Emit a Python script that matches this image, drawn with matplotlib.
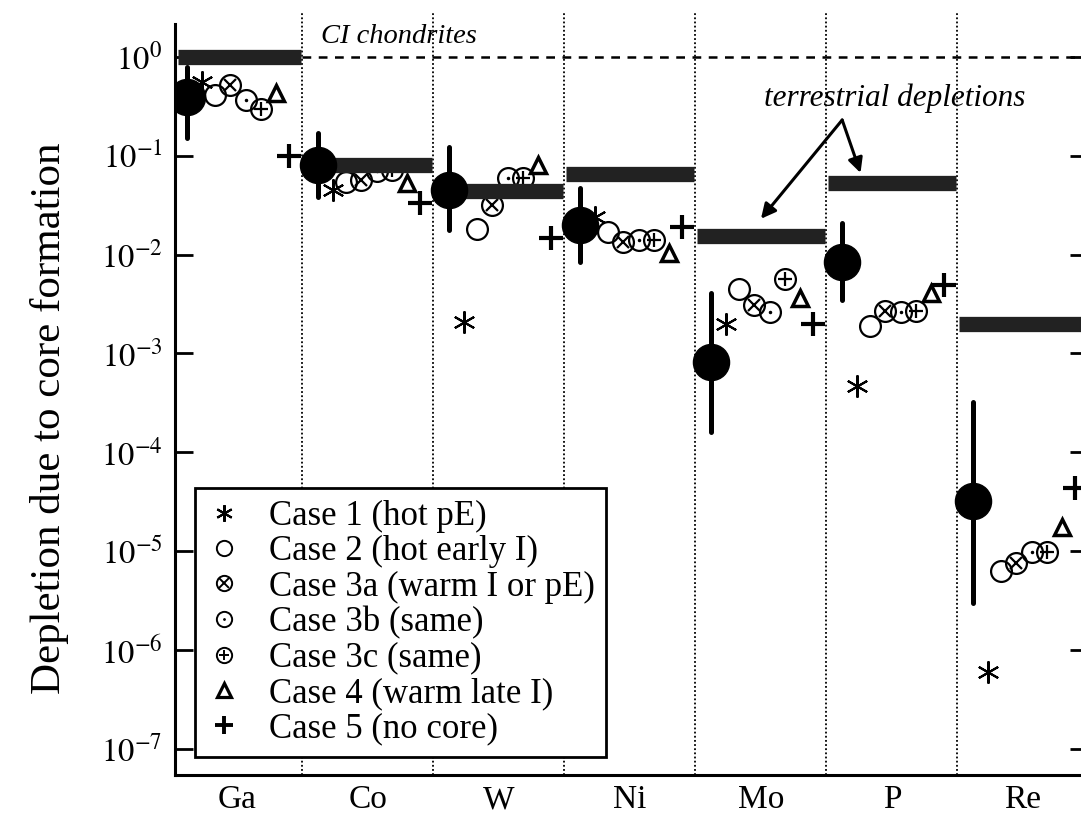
import numpy as np
import matplotlib
matplotlib.use("Agg")
import matplotlib.pyplot as plt
from matplotlib.lines import Line2D
from matplotlib.legend_handler import HandlerTuple
from matplotlib.ticker import FixedLocator, NullLocator

plt.rcParams["font.family"] = ["Liberation Serif", "DejaVu Serif"]
plt.rcParams["mathtext.fontset"] = "stix"

# element categories along the x axis
elements = ["Ga", "Co", "W", "Ni", "Mo", "P", "Re"]

# observed terrestrial depletions (thick bars)
terrestrial = [1.0, 0.081, 0.044, 0.066, 0.0155, 0.053, 0.0020]

# required depletion due to core formation, with range
core_mid = [0.39, 0.081, 0.045, 0.020, 8.2e-4, 8.5e-3, 3.2e-5]
core_hi = [0.79, 0.17, 0.123, 0.047, 4.1e-3, 0.021, 3.2e-4]
core_lo = [0.151, 0.038, 0.0177, 0.0084, 1.6e-4, 3.5e-3, 3.0e-6]

# model cases
case1 = [0.56, 0.045, 0.0021, 0.024, 2.0e-3, 4.7e-4, 5.9e-7]
case2 = [0.41, 0.054, 0.018, 0.017, 4.5e-3, 1.9e-3, 6.3e-6]
case3a = [0.52, 0.057, 0.032, 0.0134, 3.1e-3, 2.7e-3, 7.5e-6]
case3b = [0.37, 0.070, 0.060, 0.014, 2.6e-3, 2.6e-3, 9.8e-6]
case3c = [0.30, 0.072, 0.060, 0.014, 5.6e-3, 2.7e-3, 9.8e-6]
case4 = [0.43, 0.053, 0.081, 0.0103, 3.6e-3, 4.1e-3, 1.75e-5]
case5 = [0.10, 0.033, 0.0146, 0.019, 2.0e-3, 4.9e-3, 4.3e-5]

case_labels = [
    "Case 1 (hot pE)",
    "Case 2 (hot early I)",
    "Case 3a (warm I or pE)",
    "Case 3b (same)",
    "Case 3c (same)",
    "Case 4 (warm late I)",
    "Case 5 (no core)",
]

x = np.arange(len(elements))
K = "black"
STAR = (6, 2, 0)

fig = plt.figure(figsize=(10.81, 8.18), dpi=100)
ax = fig.add_axes([0.1619, 0.0526, 0.8450, 0.9328])
ax.set_yscale("log")
ax.set_xlim(-0.473, 6.5)
ax.set_ylim(10 ** -7.267, 10 ** 0.455)

# separators between elements
ax.vlines(x[:-1] + 0.5, 10 ** -7.267, 10 ** 0.455, colors=K, lw=1.3,
          linestyles=(0, (1, 1.3)), zorder=1)

# CI chondrites reference
ax.hlines(1.0, 0.5, 6.5, colors=K, lw=1.8, linestyles=(0, (3.5, 3)), zorder=1)
ax.text(1.24, 1.6, "CI chondrites", style="italic", fontsize=20.5,
        ha="center", va="center")

# terrestrial depletions bars
xmin = np.maximum(x - 0.49, -0.45)
ax.hlines(terrestrial, xmin, x + 0.49, colors="#222222", lw=11, zorder=3)

ax.annotate("", xy=(4.0, 0.023), xytext=(4.62, 0.23),
            arrowprops=dict(arrowstyle="-|>", color=K, lw=2.2,
                            mutation_scale=22, shrinkA=0, shrinkB=0))
ax.annotate("", xy=(4.76, 0.067), xytext=(4.62, 0.23),
            arrowprops=dict(arrowstyle="-|>", color=K, lw=2.2,
                            mutation_scale=22, shrinkA=0, shrinkB=0))
ax.text(5.02, 0.38, "terrestrial depletions", style="italic", fontsize=22.5,
        ha="center", va="center")

# model cases
off = [-0.27, -0.17, -0.05, 0.07, 0.18, 0.30, 0.40]
ring = dict(ls="none", marker="o", ms=15, mfc="none", mec=K, mew=1.6, zorder=2)
ax.plot(x + off[0], case1, ls="none", marker=STAR, ms=16, mec=K,
        mew=1.5, zorder=2)
ax.plot(x + off[1], case2, **ring)
ax.plot(x + off[2], case3a, **ring)
ax.plot(x + off[2], case3a, ls="none", marker="x", ms=9, mec=K, mew=1.6, zorder=2)
ax.plot(x + off[3], case3b, **ring)
ax.plot(x + off[3], case3b, ls="none", marker=".", ms=3, mec=K, mfc=K, zorder=2)
ax.plot(x + off[4], case3c, **ring)
ax.plot(x + off[4], case3c, ls="none", marker="+", ms=10, mec=K, mew=1.6, zorder=2)
ax.plot(x + off[5], case4, ls="none", marker="^", ms=11, mfc="none", mec=K,
        mew=2.5, zorder=2)
ax.plot(x + off[6], case5, ls="none", marker="+", ms=17, mec=K, mew=3, zorder=2)

# core formation requirement
mid = np.array(core_mid)
err = [mid - np.array(core_lo), np.array(core_hi) - mid]
eb = ax.errorbar(x - 0.38, mid, yerr=err, fmt="o", ms=26, color=K,
                 elinewidth=3.6, capsize=0, zorder=4)
eb[2][0].set_capstyle("round")

# axes styling
for s in ["top", "right"]:
    ax.spines[s].set_visible(False)
ax.spines["left"].set_linewidth(2.2)
ax.spines["bottom"].set_linewidth(2.2)
ax.spines["left"].set_bounds(10 ** -7.267, 10 ** 0.33)

ax.yaxis.set_major_locator(FixedLocator([10.0 ** k for k in range(-7, 1)]))
ax.yaxis.set_minor_locator(NullLocator())
ax.set_yticklabels([f"$10^{{{k}}}$" for k in range(-7, 1)])
ax.tick_params(axis="y", which="major", direction="in", length=13, width=2,
               right=True, labelsize=23.5, pad=9)
ax.set_xticks(x)
ax.set_xticklabels(elements)
ax.tick_params(axis="x", length=0, labelsize=24, pad=7)

fig.text(50 / 1081, 1 - 418 / 818, "Depletion due to core formation",
         rotation=90, ha="center", va="center", fontsize=31)

# legend
lk = dict(ls="none", color=K)
r = dict(marker="o", ms=11, mfc="none", mec=K, mew=1.4, **lk)
handles = [
    Line2D([], [], marker=STAR, ms=12, mew=1.5, **lk),
    Line2D([], [], **r),
    (Line2D([], [], **r), Line2D([], [], marker="x", ms=6.5, mew=1.4, **lk)),
    (Line2D([], [], **r), Line2D([], [], marker=".", ms=2, **lk)),
    (Line2D([], [], **r), Line2D([], [], marker="+", ms=7.5, mew=1.4, **lk)),
    Line2D([], [], marker="^", ms=9.5, mfc="none", mew=2.3, **lk),
    Line2D([], [], marker="+", ms=13, mew=2.8, **lk),
]
leg = ax.legend(handles, case_labels, loc="lower left",
                bbox_to_anchor=(195 / 1081, 61 / 818),
                bbox_transform=fig.transFigure, fontsize=25, frameon=True,
                fancybox=False, edgecolor=K, framealpha=1, borderaxespad=0,
                handlelength=1.0, handletextpad=0.8, labelspacing=0.07,
                borderpad=0.33,
                handler_map={tuple: HandlerTuple(ndivide=1, pad=0)})
leg.get_frame().set_linewidth(2)
leg.set_zorder(5)

fig.savefig("out.png", dpi=100)
